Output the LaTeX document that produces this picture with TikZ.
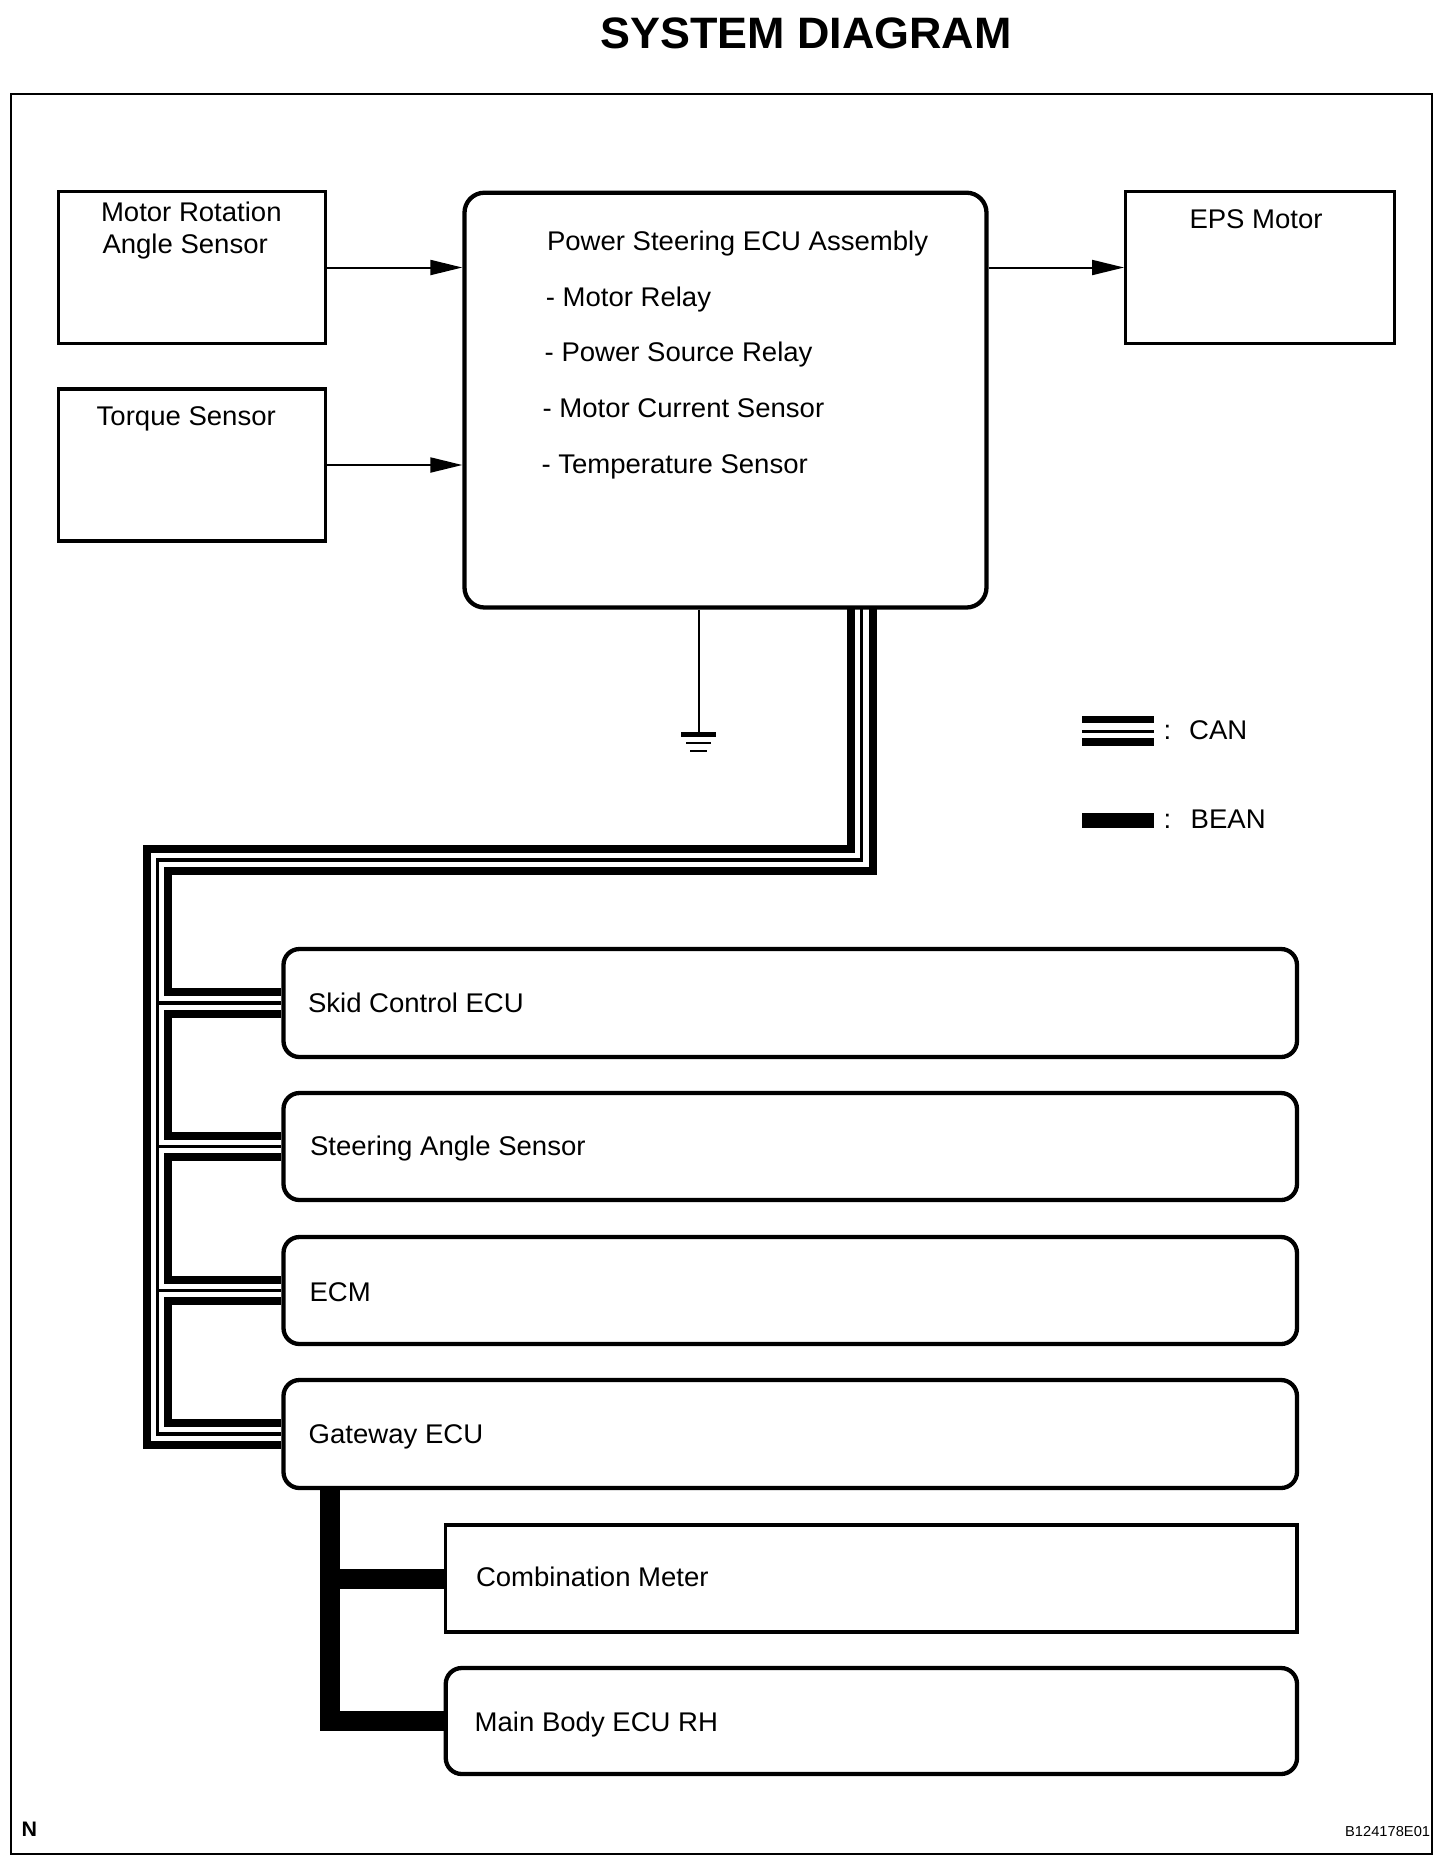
\documentclass[tikz,border=0pt]{standalone}
\usepackage{fontspec}
\setmainfont{Liberation Sans}[FakeStretch=1.02]
\usetikzlibrary{arrows.meta,calc}
\begin{document}
\begin{tikzpicture}[x=0.5pt,y=-0.5pt,
  txt/.style={anchor=base west, inner sep=0pt, outer sep=0pt, font=\fontsize{13.5pt}{16pt}\selectfont},
  sqbox/.style={draw, line width=1.65pt, fill=white, inner sep=0pt, rectangle},
  rbox/.style={draw, line width=2.15pt, fill=white, inner sep=0pt, rectangle, rounded corners=8pt},
  sig/.style={line width=1pt, -{Triangle[length=16pt,width=7.5pt]}},
  canthick/.style={line width=4pt},
  canthin/.style={line width=1.6pt},
  bean/.style={line width=10pt},
]
\useasboundingbox (0,0) rectangle (1456,1860);
\fill[white] (0,0) rectangle (1456,1860);

% title and frame
\node[anchor=base, inner sep=0pt, font=\fontsize{22pt}{26pt}\selectfont\bfseries] (title) at (806,48) {SYSTEM DIAGRAM};
\draw[line width=1.25pt] (11,94) rectangle (1432,1854);

% top boxes
\node[sqbox, minimum width=133.5pt, minimum height=75.8pt] (mrs) at (191.8,267.5) {};
\node[sqbox, minimum width=133.5pt, minimum height=76pt] (ts) at (191.8,465) {};
\node[rbox, rounded corners=10pt, minimum width=261pt, minimum height=207.4pt] (ecu) at (725.5,400.1) {};
\node[sqbox, minimum width=134.3pt, minimum height=75.8pt] (eps) at (1260,267.5) {};

\node[txt] (mrsT1) at (101,221.7) {Motor Rotation};
\node[txt] (mrsT2) at (102.5,253.3) {Angle Sensor};
\node[txt] (tsT) at (96.7,425.7) {Torque Sensor};
\node[txt] (epsT) at (1189.5,228.3) {EPS Motor};
\node[txt] (ecuT) at (547,250.7) {Power Steering ECU Assembly};
\node[txt] (ecu1) at (545.8,306.7) {- Motor Relay};
\node[txt] (ecu2) at (544.7,361) {- Power Source Relay};
\node[txt] (ecu3) at (542.6,417.3) {- Motor Current Sensor};
\node[txt] (ecu4) at (541.5,473.3) {- Temperature Sensor};

% signal arrows
\draw[sig] (mrs.east) -- (mrs.east -| ecu.west);
\draw[sig] (ts.east) -- (ts.east -| ecu.west);
\draw[sig] (ecu.east |- eps.west) -- (eps.west);

% ground
\coordinate (gnd) at (698.6,732);
\draw[line width=1pt] (ecu.south -| gnd) -- (gnd);
\fill (681,732) rectangle (716,736.7);
\fill (686,742) rectangle (711,744.2);
\fill (690,749.7) rectangle (707,751.9);

% bottom boxes
\node[rbox, minimum width=506.75pt, minimum height=54pt] (skid) at (790.25,1003) {};
\node[rbox, minimum width=506.75pt, minimum height=53.5pt] (steer) at (790.25,1146.5) {};
\node[rbox, minimum width=506.75pt, minimum height=53.5pt] (ecm) at (790.25,1290.5) {};
\node[rbox, minimum width=506.75pt, minimum height=54pt] (gw) at (790.25,1434) {};
\node[sqbox, minimum width=425.65pt, minimum height=53.5pt] (comb) at (871.4,1578.5) {};
\node[rbox, minimum width=425.65pt, minimum height=53pt] (main) at (871.4,1721) {};

\node[txt] (skidT) at (308,1012.5) {Skid Control ECU};
\node[txt] (steerT) at (310,1155.8) {Steering Angle Sensor};
\node[txt] (ecmT) at (309.6,1301) {ECM};
\node[txt] (gwT) at (308.7,1443.2) {Gateway ECU};
\node[txt] (combT) at (476,1586) {Combination Meter};
\node[txt] (mainT) at (474.7,1731) {Main Body ECU RH};

% CAN bus
\coordinate (cA) at (850.9,607.5);
\coordinate (cB) at (861.7,607.5);
\coordinate (cC) at (872.5,607.5);
\coordinate (bx) at (157.5,900);
\coordinate (cx) at (168.3,900);
\draw[canthick] (cA) |- (146.7,849.2) |- ($(gw.west)+(0,10.8)$);
\draw[canthin] (cB) |- (157.5,860) |- (gw.west);
\draw[canthin] (skid.west -| bx) -- (skid.west);
\draw[canthin] (steer.west -| bx) -- (steer.west);
\draw[canthin] (ecm.west -| bx) -- (ecm.west);
\draw[canthick] (cC) |- (168.3,870.8) |- ($(skid.west)+(0,-10.8)$);
\draw[canthick] ($(skid.west)+(0,10.8)$) -| ($(steer.west -| cx)+(0,-10.8)$) -- ($(steer.west)+(0,-10.8)$);
\draw[canthick] ($(steer.west)+(0,10.8)$) -| ($(ecm.west -| cx)+(0,-10.8)$) -- ($(ecm.west)+(0,-10.8)$);
\draw[canthick] ($(ecm.west)+(0,10.8)$) -| ($(gw.west -| cx)+(0,-10.8)$) -- ($(gw.west)+(0,-10.8)$);

% BEAN bus
\coordinate (beanx) at (330,1500);
\draw[bean] (gw.south -| beanx) |- (main.west);
\draw[bean] (comb.west -| beanx) -- (comb.west);

% legend
\fill (1082.3,716) rectangle (1154,723.3);
\fill (1082.3,730) rectangle (1154,733.3);
\fill (1082.3,738.3) rectangle (1154,745.7);
\fill (1082.3,813.3) rectangle (1154,828.3);
\node[txt] (canL) at (1163.5,739) {{:}\hspace{9pt}CAN};
\node[txt] (beanL) at (1163.5,828.3) {{:}\hspace{9.75pt}BEAN};

% corner marks
\node[anchor=base west, inner sep=0pt, font=\fontsize{10.5pt}{12pt}\selectfont\bfseries] (nmark) at (21.2,1836.7) {N};
\node[anchor=base east, inner sep=0pt, font=\fontsize{7.2pt}{9pt}\selectfont] (code) at (1430.5,1836.7) {B124178E01};
\end{tikzpicture}
\end{document}
